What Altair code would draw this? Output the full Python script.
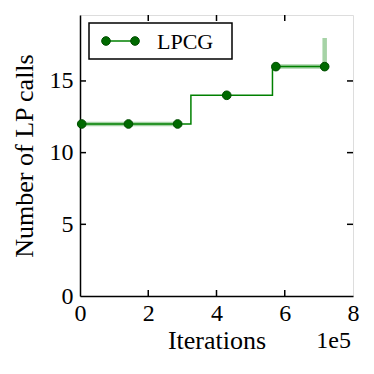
import altair as alt
import pandas as pd

# ---- data ----
# mean step line (step-after)
line_x = [0.0, 3.25, 5.64, 7.17]
line_y = [12, 14, 16, 16]
# markers
mark_x = [0.05, 1.42, 2.86, 4.30, 5.74, 7.17]
mark_y = [12, 12, 12, 14, 16, 16]
# light band (spread between runs)
band_seg = ["a", "a", "b", "b", "b"]
band_x = [0.0, 3.0, 5.64, 7.17, 7.17]
band_y = [12, 12, 16, 16, 18]
# axes
x_ticks = [0, 2, 4, 6, 8]
y_ticks = [0, 5, 10, 15]
x_domain = [0, 8]
y_domain = [0, 19.6]
series_name = ["LPCG"]

W, H = 273, 281
GREEN = "#008000"
FONT = "Liberation Serif"
LFS = 24   # tick labels
TFS = 26   # axis titles

line_df = pd.DataFrame({"x": line_x, "y": line_y})
mark_df = pd.DataFrame({"x": mark_x, "y": mark_y})
band_df = pd.DataFrame({"seg": band_seg, "x": band_x, "y": band_y})
xt_df = pd.DataFrame({"x": x_ticks[1:-1]})
yt_df = pd.DataFrame({"y": y_ticks[1:]})
leg_df = pd.DataFrame({"label": series_name})

xs = alt.Scale(domain=x_domain, nice=False, zero=False)
ys = alt.Scale(domain=y_domain, nice=False)

axis_style = dict(
    ticks=False, grid=False, format="d", labelFlush=False,
    labelFont=FONT, titleFont=FONT, labelFontSize=LFS, titleFontSize=TFS,
    labelColor="black", titleColor="black", titleFontWeight="normal",
    domainColor="black", domainWidth=1.5,
)
x_axis = alt.Axis(values=x_ticks, title="Iterations", labelPadding=5, titlePadding=2, **axis_style)
y_axis = alt.Axis(values=y_ticks, title="Number of LP calls", labelPadding=7, titlePadding=12, **axis_style)

band = alt.Chart(band_df).mark_line(color=GREEN, opacity=0.35, strokeWidth=4.5).encode(
    x=alt.X("x:Q", scale=xs, axis=x_axis),
    y=alt.Y("y:Q", scale=ys, axis=y_axis),
    detail="seg:N",
)

line = alt.Chart(line_df).mark_line(color=GREEN, strokeWidth=1.5, interpolate="step-after").encode(
    x=alt.X("x:Q", scale=xs, axis=x_axis),
    y=alt.Y("y:Q", scale=ys, axis=y_axis),
)

pt_style = dict(filled=True, size=75, color="#006a00", opacity=1, stroke="#004d00", strokeWidth=1)

pts = alt.Chart(mark_df).mark_point(**pt_style).encode(
    x=alt.X("x:Q", scale=xs, axis=x_axis),
    y=alt.Y("y:Q", scale=ys, axis=y_axis),
)

TL = 6
tick_bottom = alt.Chart(xt_df).mark_rule(color="black", strokeWidth=1.5).encode(
    x=alt.X("x:Q", scale=xs, axis=x_axis), y=alt.value(H - TL), y2=alt.value(H))
tick_top = alt.Chart(xt_df).mark_rule(color="black", strokeWidth=1.5).encode(
    x=alt.X("x:Q", scale=xs, axis=x_axis), y=alt.value(0), y2=alt.value(TL))
tick_left = alt.Chart(yt_df).mark_rule(color="black", strokeWidth=1.5).encode(
    y=alt.Y("y:Q", scale=ys, axis=y_axis), x=alt.value(0), x2=alt.value(TL))
tick_right = alt.Chart(yt_df).mark_rule(color="black", strokeWidth=1.5).encode(
    y=alt.Y("y:Q", scale=ys, axis=y_axis), x=alt.value(W - TL), x2=alt.value(W))

# legend (drawn manually to match matplotlib style)
leg_box = alt.Chart(leg_df).mark_rect(fill="white", stroke="black", strokeWidth=1.5).encode(
    x=alt.value(9), x2=alt.value(152), y=alt.value(8), y2=alt.value(44))
leg_line = alt.Chart(leg_df).mark_rule(color=GREEN, strokeWidth=1.5).encode(
    x=alt.value(26), x2=alt.value(55), y=alt.value(26))
leg_pt1 = alt.Chart(leg_df).mark_point(**pt_style).encode(x=alt.value(26), y=alt.value(26))
leg_pt2 = alt.Chart(leg_df).mark_point(**pt_style).encode(x=alt.value(55), y=alt.value(26))
leg_text = alt.Chart(leg_df).mark_text(font=FONT, fontSize=22, align="left",
                                       baseline="middle", color="black").encode(
    x=alt.value(77), y=alt.value(27), text="label:N")

exp_text = alt.Chart(leg_df).mark_text(font=FONT, fontSize=24, align="right",
                                       baseline="alphabetic", color="black").encode(
    x=alt.value(W - 2), y=alt.value(H + 52), text=alt.value("1e5"))

chart = alt.layer(
    band, line, pts,
    tick_bottom, tick_top, tick_left, tick_right,
    leg_box, leg_line, leg_pt1, leg_pt2, leg_text, exp_text,
).properties(
    width=W, height=H,
    autosize=alt.AutoSizeParams(type="none"),
    padding={"left": 72, "top": 7, "right": 13, "bottom": 70},
).configure_view(
    stroke="black", strokeWidth=1.5,
).configure(background="white")

chart.save("out.html", embed_options={"renderer": "svg", "actions": False})
